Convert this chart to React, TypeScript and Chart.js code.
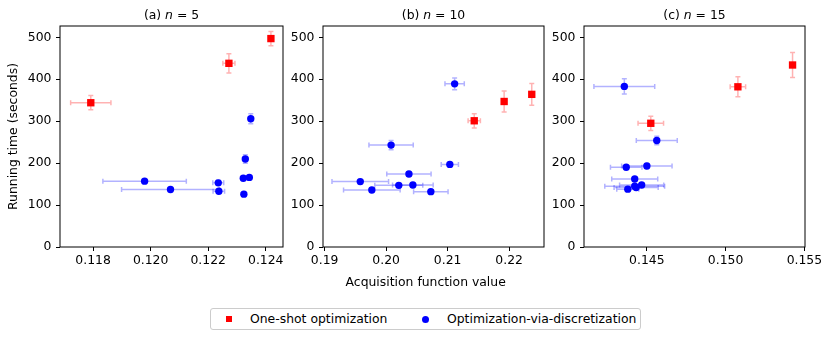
import React, { useEffect, useRef } from "react";
import { Chart, registerables } from "chart.js";

Chart.register(...registerables);

const FONT = "'DejaVu Sans', sans-serif";
const FS = 12.4;

// ---------- Data ----------
const yTicks = [0, 100, 200, 300, 400, 500];

// (a) n = 5
const aXTicks = [0.118, 0.12, 0.122, 0.124];
const aOneShotX = [0.11792, 0.12272, 0.12418];
const aOneShotY = [344, 438, 497];
const aOneShotXErr = [0.0007, 0.00021, 0.00005];
const aOneShotYErr = [17, 23, 17];
const aDiscX = [0.11979, 0.12069, 0.12235, 0.12237, 0.12322, 0.12343, 0.12329, 0.12324, 0.12348];
const aDiscY = [157, 137, 153, 133, 164, 166, 210, 126, 306];
const aDiscXErr = [0.00145, 0.0017, 0.00019, 0.0002, 0.00006, 0.00005, 0.00006, 0.00004, 0.00006];
const aDiscYErr = [4, 4, 6, 5, 5, 4, 10, 4, 12];

// (b) n = 10
const bXTicks = [0.19, 0.2, 0.21, 0.22];
const bOneShotX = [0.21433, 0.21919, 0.22368];
const bOneShotY = [301, 347, 364];
const bOneShotXErr = [0.001, 0.0001, 0.0001];
const bOneShotYErr = [17, 25, 26];
const bDiscX = [0.21114, 0.20081, 0.21036, 0.20371, 0.1958, 0.20206, 0.20435, 0.19768, 0.20727];
const bDiscY = [389, 243, 197, 174, 156, 147, 148, 136, 132];
const bDiscXErr = [0.00157, 0.0036, 0.0014, 0.0036, 0.0046, 0.0039, 0.0033, 0.0046, 0.0028];
const bDiscYErr = [14, 11, 5, 5, 5, 5, 5, 5, 5];

// (c) n = 15
const cXTicks = [0.145, 0.15, 0.155];
const cOneShotX = [0.14525, 0.15078, 0.15425];
const cOneShotY = [295, 382, 434];
const cOneShotXErr = [0.00081, 0.00049, 0.00003];
const cOneShotYErr = [17, 24, 30];
const cDiscX = [0.14357, 0.14563, 0.145, 0.14369, 0.14423, 0.14467, 0.14423, 0.14432, 0.14379];
const cDiscY = [383, 254, 193, 190, 162, 148, 145, 142, 138];
const cDiscXErr = [0.00193, 0.0013, 0.0016, 0.001, 0.00146, 0.0014, 0.0019, 0.0014, 0.0007];
const cDiscYErr = [18, 10, 6, 5, 5, 5, 5, 5, 5];

const labelOneShot = "One-shot optimization";
const labelDisc = "Optimization-via-discretization";
const xAxisLabel = "Acquisition function value";
const yAxisLabel = "Running time (seconds)";

// ---------- Plugins ----------
const errorBarPlugin = {
  id: "errorBars",
  beforeDatasetsDraw(chart: any) {
    const ctx = chart.ctx;
    const xs = chart.scales.x;
    const ys = chart.scales.y;
    const a = chart.chartArea;
    ctx.save();
    ctx.beginPath();
    ctx.rect(a.left, a.top, a.right - a.left, a.bottom - a.top);
    ctx.clip();
    const cap = 2.5;
    chart.data.datasets.forEach((ds: any) => {
      ctx.strokeStyle = ds.errorColor;
      ctx.lineWidth = 1.5;
      ds.data.forEach((p: any, i: number) => {
        const px = xs.getPixelForValue(p.x);
        const py = ys.getPixelForValue(p.y);
        const x0 = xs.getPixelForValue(p.x - ds.xErr[i]);
        const x1 = xs.getPixelForValue(p.x + ds.xErr[i]);
        const y0 = ys.getPixelForValue(p.y - ds.yErr[i]);
        const y1 = ys.getPixelForValue(p.y + ds.yErr[i]);
        ctx.beginPath();
        ctx.moveTo(x0, py); ctx.lineTo(x1, py);
        ctx.moveTo(x0, py - cap); ctx.lineTo(x0, py + cap);
        ctx.moveTo(x1, py - cap); ctx.lineTo(x1, py + cap);
        ctx.stroke();
        ctx.beginPath();
        ctx.moveTo(px, y0); ctx.lineTo(px, y1);
        ctx.moveTo(px - cap, y0); ctx.lineTo(px + cap, y0);
        ctx.moveTo(px - cap, y1); ctx.lineTo(px + cap, y1);
        ctx.stroke();
      });
    });
    ctx.restore();
  },
};

const framePlugin = {
  id: "frame",
  afterDatasetsDraw(chart: any) {
    const ctx = chart.ctx;
    const a = chart.chartArea;
    ctx.save();
    ctx.strokeStyle = "#000";
    ctx.lineWidth = 1;
    ctx.strokeRect(a.left, a.top, a.right - a.left, a.bottom - a.top);
    ctx.restore();
  },
};

type PanelSpec = {
  title: string;
  n: string;
  xTicks: number[];
  decimals: number;
  xMin: number;
  xMax: number;
  osX: number[]; osY: number[]; osXE: number[]; osYE: number[];
  dX: number[]; dY: number[]; dXE: number[]; dYE: number[];
  left: number; width: number; yWidth: number; padRight: number;
  yTitle: boolean; center: number;
};

const panels: PanelSpec[] = [
  {
    title: "a", n: "5", xTicks: aXTicks, decimals: 3, xMin: 0.11685, xMax: 0.1246,
    osX: aOneShotX, osY: aOneShotY, osXE: aOneShotXErr, osYE: aOneShotYErr,
    dX: aDiscX, dY: aDiscY, dXE: aDiscXErr, dYE: aDiscYErr,
    left: 0, width: 290, yWidth: 60, padRight: 7, yTitle: true, center: 171.5,
  },
  {
    title: "b", n: "10", xTicks: bXTicks, decimals: 2, xMin: 0.18974, xMax: 0.22567,
    osX: bOneShotX, osY: bOneShotY, osXE: bOneShotXErr, osYE: bOneShotYErr,
    dX: bDiscX, dY: bDiscY, dXE: bDiscXErr, dYE: bDiscYErr,
    left: 290, width: 260, yWidth: 33, padRight: 6, yTitle: false, center: 433.5,
  },
  {
    title: "c", n: "15", xTicks: cXTicks, decimals: 3, xMin: 0.14101, xMax: 0.15504,
    osX: cOneShotX, osY: cOneShotY, osXE: cOneShotXErr, osYE: cOneShotYErr,
    dX: cDiscX, dY: cDiscY, dXE: cDiscXErr, dYE: cDiscYErr,
    left: 550, width: 281, yWidth: 34, padRight: 26, yTitle: false, center: 694.5,
  },
];

const H = 290;
const TOP = 26;
const BOTTOM = 247;

function Panel({ spec }: { spec: PanelSpec }) {
  const ref = useRef<HTMLCanvasElement | null>(null);
  useEffect(() => {
    const tickFont = { family: FONT, size: FS };
    const chart = new Chart(ref.current as HTMLCanvasElement, {
      type: "scatter",
      data: {
        datasets: [
          {
            label: labelOneShot,
            data: spec.osX.map((x, i) => ({ x, y: spec.osY[i] })),
            pointStyle: "rect",
            pointRadius: 5.2,
            backgroundColor: "#ff0000",
            borderColor: "#ff0000",
            borderWidth: 0,
            errorColor: "rgba(255,0,0,0.3)",
            xErr: spec.osXE,
            yErr: spec.osYE,
          } as any,
          {
            label: labelDisc,
            data: spec.dX.map((x, i) => ({ x, y: spec.dY[i] })),
            pointStyle: "circle",
            pointRadius: 3.7,
            backgroundColor: "#0000ff",
            borderColor: "#0000ff",
            borderWidth: 0,
            errorColor: "rgba(0,0,255,0.3)",
            xErr: spec.dXE,
            yErr: spec.dYE,
          } as any,
        ],
      },
      options: {
        animation: false,
        responsive: false,
        maintainAspectRatio: false,
        layout: { padding: { top: TOP, right: spec.padRight, bottom: 0, left: 0 } },
        plugins: { legend: { display: false }, tooltip: { enabled: false } },
        scales: {
          x: {
            type: "linear",
            min: spec.xMin,
            max: spec.xMax,
            afterBuildTicks: (scale: any) => {
              scale.ticks = spec.xTicks.map((v) => ({ value: v }));
            },
            afterFit: (scale: any) => {
              scale.height = H - BOTTOM;
            },
            ticks: {
              autoSkip: false,
              maxRotation: 0,
              color: "#000",
              font: tickFont,
              padding: 2,
              callback: (v: any) => Number(v).toFixed(spec.decimals),
            },
            grid: {
              drawOnChartArea: false,
              drawTicks: true,
              tickLength: 4,
              tickColor: "#000",
              tickWidth: 1,
            },
            border: { display: false },
          },
          y: {
            type: "linear",
            min: 0,
            max: 527,
            afterBuildTicks: (scale: any) => {
              scale.ticks = yTicks.map((v) => ({ value: v }));
            },
            afterFit: (scale: any) => {
              scale.width = spec.yWidth;
            },
            ticks: {
              autoSkip: false,
              color: "#000",
              font: tickFont,
              padding: 4.5,
            },
            grid: {
              drawOnChartArea: false,
              drawTicks: true,
              tickLength: 4,
              tickColor: "#000",
              tickWidth: 1,
            },
            border: { display: false },
            title: {
              display: spec.yTitle,
              text: yAxisLabel,
              color: "#000",
              font: { family: FONT, size: FS },
              padding: { top: 6.5, bottom: 0 },
            },
          },
        },
      } as any,
      plugins: [errorBarPlugin, framePlugin],
    });
    return () => chart.destroy();
  }, [spec]);
  return (
    <div style={{ position: "absolute", left: spec.left, top: 0, width: spec.width, height: H }}>
      <canvas ref={ref} width={spec.width} height={H} style={{ width: spec.width, height: H, display: "block" }} />
    </div>
  );
}

export default function App() {
  const textStyle: React.CSSProperties = { fontFamily: FONT, fontSize: FS, color: "#000", lineHeight: "14px" };
  return (
    <div style={{ position: "fixed", left: 0, top: 0, width: 831, height: 339, background: "#fff", overflow: "hidden" }}>
      {panels.map((p) => (
        <React.Fragment key={p.title}>
          <Panel spec={p} />
          <div
            style={{
              ...textStyle,
              position: "absolute",
              left: p.center - 100,
              top: 8,
              width: 200,
              textAlign: "center",
              whiteSpace: "nowrap",
            }}
          >
            ({p.title}) <i>n</i> = {p.n}
          </div>
        </React.Fragment>
      ))}
      <div
        style={{
          ...textStyle,
          position: "absolute",
          left: 325.7,
          top: 274.7,
          width: 200,
          textAlign: "center",
          whiteSpace: "nowrap",
        }}
      >
        {xAxisLabel}
      </div>
      <div
        style={{
          position: "absolute",
          left: 210,
          top: 308,
          width: 429,
          height: 20,
          border: "1px solid #cccccc",
          borderRadius: 3,
          background: "#fff",
        }}
      >
        <div style={{ position: "absolute", left: 15, top: 7, width: 6, height: 6, background: "#ff0000" }} />
        <div style={{ ...textStyle, position: "absolute", left: 39, top: 3, whiteSpace: "nowrap" }}>{labelOneShot}</div>
        <div style={{ position: "absolute", left: 210.5, top: 6.5, width: 7, height: 7, borderRadius: "50%", background: "#0000ff" }} />
        <div style={{ ...textStyle, position: "absolute", left: 236, top: 3, whiteSpace: "nowrap" }}>{labelDisc}</div>
      </div>
    </div>
  );
}
